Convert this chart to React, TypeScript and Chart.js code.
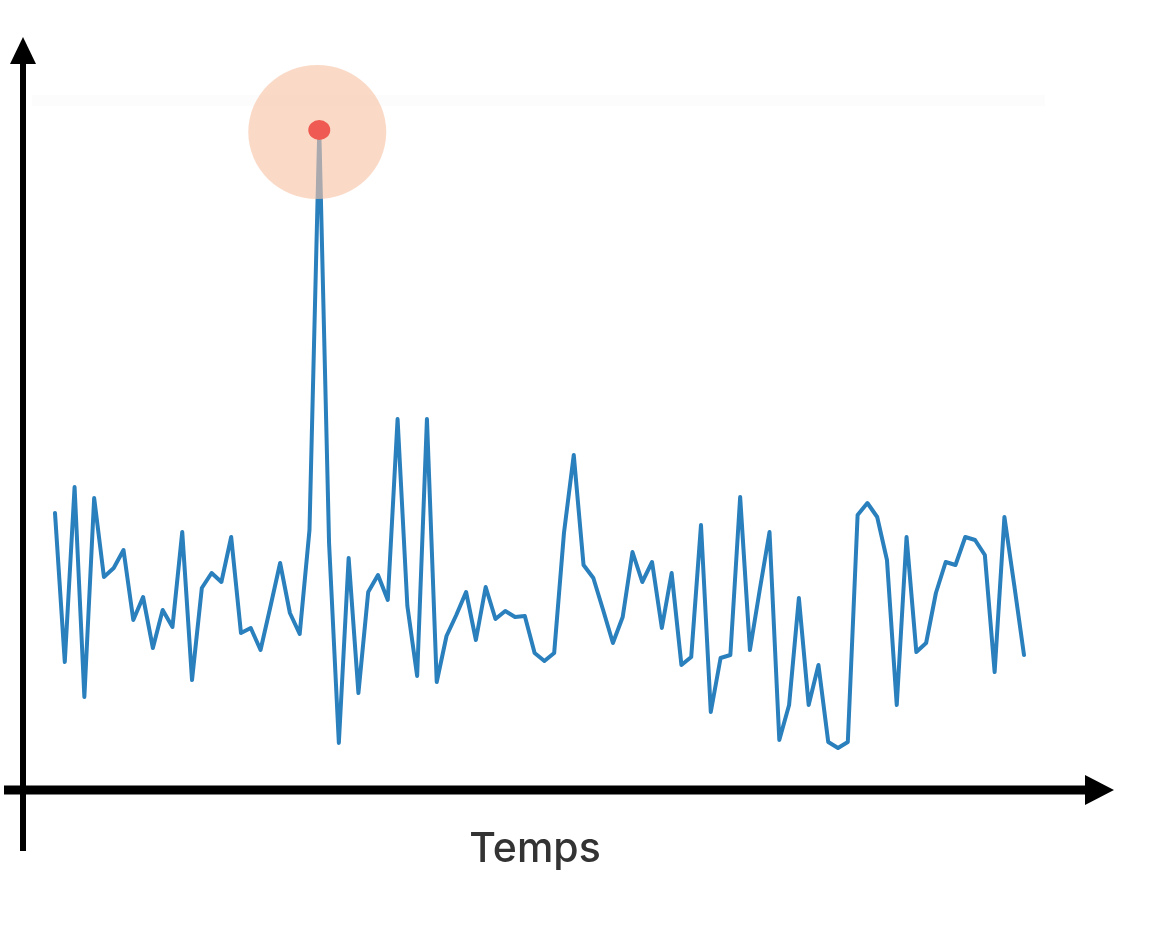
import React, { useEffect, useRef } from "react";
import { Chart, registerables } from "chart.js";

Chart.register(...registerables);

// Signal sampled over time (arbitrary units, baseline at the time axis)
const signalValues: number[] = [
  277, 128, 303, 93, 292, 213, 222, 240, 170, 193,
  142, 180, 163, 258, 110, 202, 217, 208, 253, 157,
  162, 140, 183, 227, 177, 156, 260, 660, 247, 47,
  232, 97, 198, 215, 190, 371, 184, 114, 371, 108,
  154, 175, 198, 150, 203, 171, 179, 173, 174, 137,
  129, 137, 257, 335, 225, 212, 180, 147, 173, 238,
  208, 228, 162, 217, 125, 133, 265, 78, 132, 135,
  293, 140, 200, 258, 50, 85, 192, 85, 125, 48,
  42, 48, 275, 287, 273, 230, 85, 253, 138, 147,
  197, 228, 225, 253, 250, 235, 118, 273, 205, 135,
];
const timeLabels: string[] = signalValues.map((_, i) => String(i + 1));
const peakIndex = 27;
const axisTitle = "Temps";

export default function App() {
  const ref = useRef<HTMLCanvasElement | null>(null);

  useEffect(() => {
    if (!ref.current) return;

    const decor = {
      id: "decor",
      beforeDatasetsDraw(chart: any) {
        const ctx = chart.ctx;
        ctx.save();
        // very faint band near top
        ctx.fillStyle = "rgba(244,244,244,0.3)";
        ctx.fillRect(32, 95, 1013, 11);
        ctx.restore();
      },
      afterDatasetsDraw(chart: any) {
        const ctx = chart.ctx;
        const meta = chart.getDatasetMeta(0);
        const pt = meta.data[peakIndex];
        ctx.save();
        // highlight halo
        ctx.fillStyle = "rgba(247, 196, 165, 0.62)";
        ctx.beginPath();
        ctx.ellipse(pt.x - 2, pt.y + 2, 69, 67, 0, 0, Math.PI * 2);
        ctx.fill();
        // red dot
        ctx.fillStyle = "#ef5b52";
        ctx.beginPath();
        ctx.ellipse(pt.x, pt.y, 11, 10, 0, 0, Math.PI * 2);
        ctx.fill();

        // axes
        ctx.fillStyle = "#000";
        ctx.strokeStyle = "#000";
        ctx.lineCap = "butt";
        // vertical axis
        ctx.lineWidth = 6;
        ctx.beginPath();
        ctx.moveTo(23, 58);
        ctx.lineTo(23, 851);
        ctx.stroke();
        ctx.beginPath();
        ctx.moveTo(23, 37);
        ctx.lineTo(36, 64);
        ctx.lineTo(10, 64);
        ctx.closePath();
        ctx.fill();
        // horizontal axis
        ctx.lineWidth = 9;
        ctx.beginPath();
        ctx.moveTo(4, 790);
        ctx.lineTo(1092, 790);
        ctx.stroke();
        ctx.beginPath();
        ctx.moveTo(1114, 790);
        ctx.lineTo(1085, 775);
        ctx.lineTo(1085, 805);
        ctx.closePath();
        ctx.fill();

        // axis title
        ctx.fillStyle = "#333";
        ctx.font = "500 41px Inter, Roboto, sans-serif";
        ctx.textAlign = "center";
        ctx.textBaseline = "alphabetic";
        ctx.fillText(axisTitle, 535, 862);
        ctx.restore();
      },
    };

    const chart = new Chart(ref.current, {
      type: "line",
      data: {
        labels: timeLabels,
        datasets: [
          {
            data: signalValues,
            borderColor: "#2a7fbd",
            borderWidth: 4,
            pointRadius: 0,
            tension: 0,
            fill: false,
            borderJoinStyle: "round",
            borderCapStyle: "round",
          },
        ],
      },
      options: {
        responsive: false,
        animation: false,
        layout: { padding: { left: 55, right: 126, top: 90, bottom: 158 } },
        plugins: {
          legend: { display: false },
          tooltip: { enabled: false },
        },
        scales: {
          x: { type: "category", display: false, offset: false },
          y: { display: false, min: 0, max: 700 },
        },
      },
      plugins: [decor],
    });
    return () => chart.destroy();
  }, []);

  return (
    <div style={{ position: "absolute", left: 0, top: 0, width: 1150, height: 948, background: "#fff" }}>
      <canvas ref={ref} width={1150} height={948} />
    </div>
  );
}
